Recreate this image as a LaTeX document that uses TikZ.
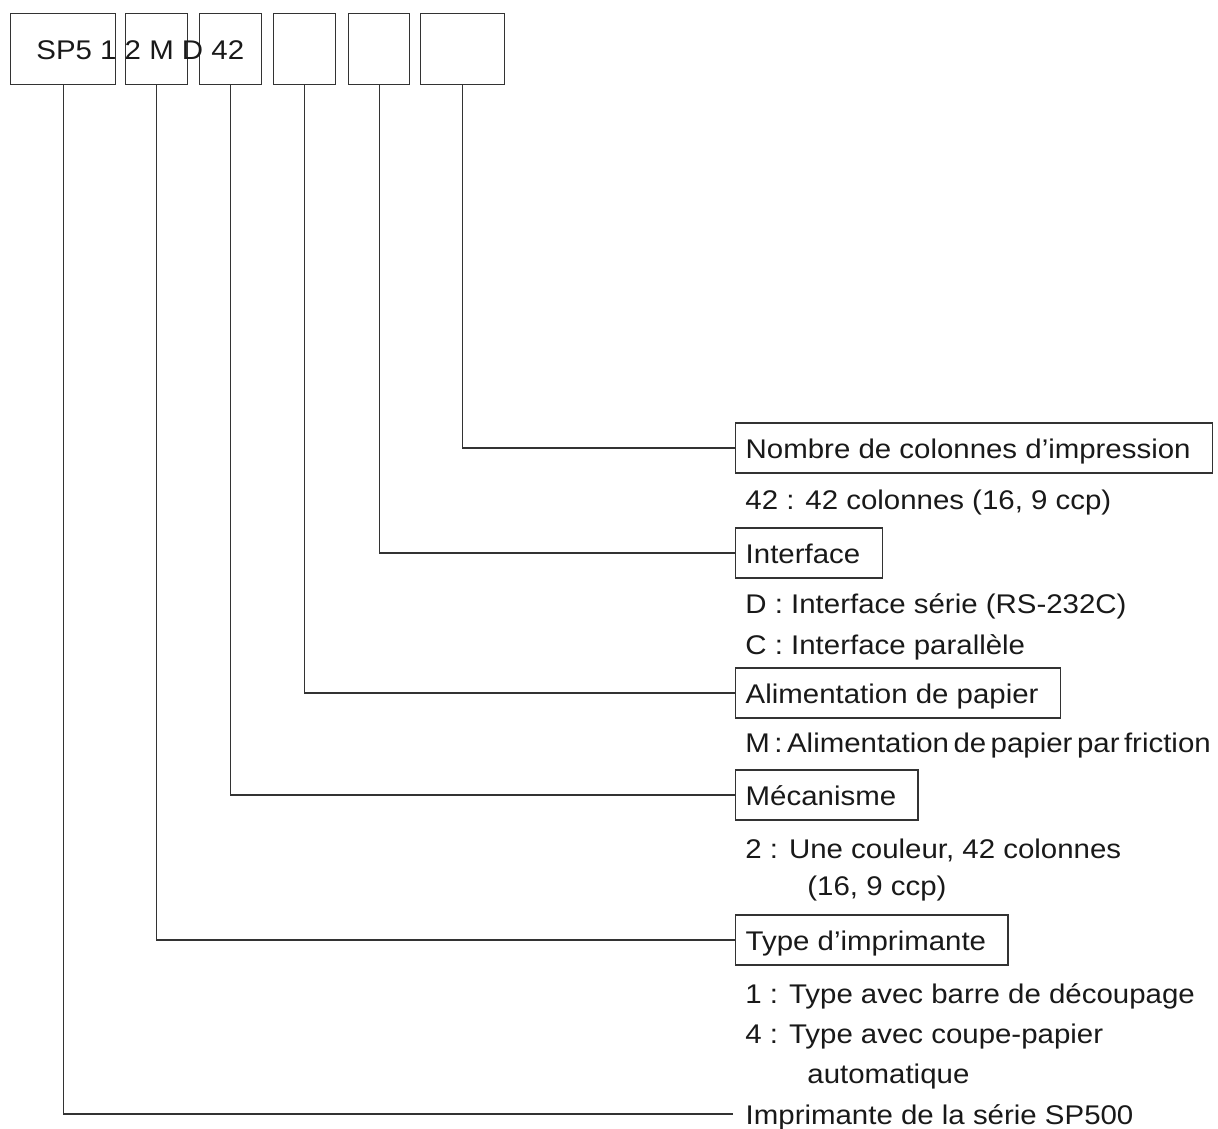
\documentclass[tikz,border=0pt]{standalone}
\usepackage{fontspec}
\setmainfont{Liberation Sans}[FakeStretch=1.09]
\usetikzlibrary{positioning}

\tikzset{
  wire/.style={line width=0.7pt, draw=black!80},
  codebox/.style={draw=black!80, line width=0.7pt, anchor=north west, inner sep=0pt, minimum height=35.5pt},
  fieldbox/.style={draw=black!80, line width=0.7pt, anchor=west, inner sep=0pt, minimum height=25pt,
    text height=10pt, text depth=0pt,
    execute at begin node={\hspace{5pt}}, execute at end node={\hspace{11pt}}},
  fieldtext/.style={anchor=base west, inner sep=0pt},
}

\begin{document}
\begin{tikzpicture}[x=0.5pt, y=-0.5pt, font=\fontsize{13.5}{16}\selectfont, text=black!90]
  \useasboundingbox (0,0) rectangle (1218,1128);

  % code boxes
  \node[codebox, minimum width=52.5pt] (b1) at (10,13) {};
  \node[codebox, minimum width=31pt]   (b2) at (125,13) {};
  \node[codebox, minimum width=31pt]   (b3) at (199,13) {};
  \node[codebox, minimum width=31pt]   (b4) at (273,13) {};
  \node[codebox, minimum width=30.5pt] (b5) at (348,13) {};
  \node[codebox, minimum width=42pt]   (b6) at (420,13) {};
  \node[fieldtext] (code) at (36,60) {SP5 1 2 M D 42};

  % fields
  \node[fieldbox] (colonnes) at (735,448) {Nombre de colonnes d’impression};
  \node[fieldtext] (colonnes1) at (745,509) {42 : 42 colonnes (16, 9 ccp)};

  \node[fieldbox] (interface) at (735,553) {Interface};
  \node[fieldtext] (interface1) at (745,613) {D : Interface série (RS-232C)};
  \node[fieldtext] (interface2) at (745,654) {C : Interface parallèle};

  \node[fieldbox] (papier) at (735,693) {Alimentation de papier};
  \node[fieldtext] (papier1) at (745,752) {M\,:\,Alimentation\,de\,papier\,par\,friction};

  \node[fieldbox] (meca) at (735,795) {Mécanisme};
  \node[fieldtext] (meca1) at (745,858) {2 : Une couleur, 42 colonnes};
  \node[fieldtext] (meca2) at (807,895) {(16, 9 ccp)};

  \node[fieldbox] (type) at (735,940) {Type d’imprimante};
  \node[fieldtext] (type1) at (745,1003) {1 : Type avec barre de découpage};
  \node[fieldtext] (type2) at (745,1043) {4 : Type avec coupe-papier};
  \node[fieldtext] (type3) at (807,1083) {automatique};

  \node[fieldbox, draw=none] (serie) at (735,1114) {Imprimante de la série SP500};

  % connectors
  \draw[wire] (b6.south) |- (colonnes.west);
  \draw[wire] (b5.south) |- (interface.west);
  \draw[wire] (b4.south) |- (papier.west);
  \draw[wire] (b3.south) |- (meca.west);
  \draw[wire] (b2.south) |- (type.west);
  \draw[wire] (b1.south) |- ([xshift=-1pt]serie.west);
\end{tikzpicture}
\end{document}
